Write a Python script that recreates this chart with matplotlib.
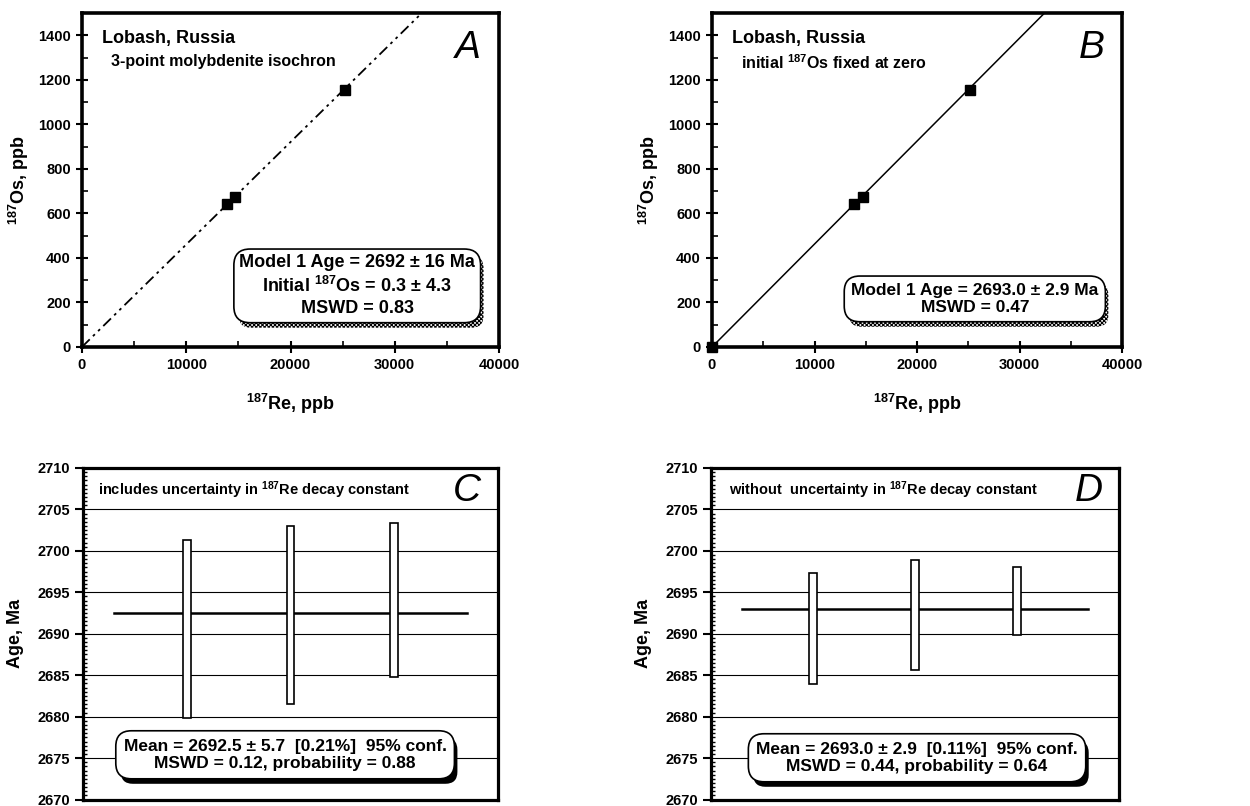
import matplotlib
matplotlib.use('Agg')
import matplotlib.pyplot as plt
from matplotlib.patches import FancyBboxPatch
from matplotlib.transforms import IdentityTransform
from matplotlib.ticker import MultipleLocator

plt.rcParams['font.family'] = ['Liberation Sans', 'DejaVu Sans']
plt.rcParams['font.weight'] = 'bold'
plt.rcParams['axes.labelweight'] = 'bold'
plt.rcParams['mathtext.fontset'] = 'custom'
plt.rcParams['mathtext.rm'] = 'Liberation Sans:bold'
plt.rcParams['mathtext.it'] = 'Liberation Sans:bold'
plt.rcParams['mathtext.bf'] = 'Liberation Sans:bold'
plt.rcParams['hatch.linewidth'] = 0.8

# isochron data (187Re, 187Os in ppb)
re_ppb = [13900, 14700, 25200]
os_ppb = [640, 675, 1155]
# panel B also includes the origin
re_ppb_b = [0, 13900, 14700, 25200]
os_ppb_b = [0, 640, 675, 1155]

# regression line end points
line_a_x = [0, 32600]
line_a_y = [0.3, 1500]
line_b_x = [0, 32450]
line_b_y = [0, 1500]

# weighted mean plots: age ranges for each analysis
sample_pos = [1, 2, 3]
c_low = [2679.8, 2681.5, 2684.8]
c_high = [2701.3, 2703.0, 2703.4]
c_mean = 2692.5
d_low = [2683.9, 2685.6, 2689.8]
d_high = [2697.3, 2698.9, 2698.1]
d_mean = 2693.0
mean_span = [0.3, 3.7]

boxes = []


def info_box(ax, x, y, txt, shadow, fs=13, ls=1.25, pad=0.4):
    t = ax.text(x, y, txt, transform=ax.transAxes, ha='center', va='center',
                fontsize=fs, linespacing=ls, zorder=6,
                bbox=dict(boxstyle='round,pad=%s,rounding_size=0.9' % pad,
                          fc='white', ec='black', lw=1.2))
    boxes.append((ax, t, shadow))


def add_shadows(fig):
    # shadow patches need the rendered box size, so draw first
    fig.canvas.draw()
    for ax, t, shadow in boxes:
        bb = t.get_bbox_patch().get_window_extent()
        if shadow == 'hatch':
            kw = dict(fc='white', ec='black', lw=0, hatch='xxxxxxxx')
        else:
            kw = dict(fc='black', ec='black', lw=0)
        p = FancyBboxPatch((bb.x0 + 5, bb.y0 - 5), bb.width - 2, bb.height - 2,
                           boxstyle='round,pad=0,rounding_size=12',
                           transform=IdentityTransform(), zorder=5,
                           clip_on=False, **kw)
        ax.add_artist(p)


def style_isochron(ax):
    ax.set_xlim(0, 40000)
    ax.set_ylim(0, 1500)
    ax.xaxis.set_major_locator(MultipleLocator(10000))
    ax.xaxis.set_minor_locator(MultipleLocator(5000))
    ax.yaxis.set_minor_locator(MultipleLocator(100))
    ax.set_yticks(range(0, 1401, 200))
    ax.tick_params(which='major', direction='inout', length=8, width=1.5,
                   labelsize=10.5, pad=4)
    ax.tick_params(which='minor', direction='in', length=4, width=1.2)
    for s in ax.spines.values():
        s.set_linewidth(2.6)
    ax.set_xlabel(r'$^{187}$Re, ppb', fontsize=13, labelpad=14)
    ax.set_ylabel(r'$^{187}$Os, ppb', fontsize=13, labelpad=5)


def style_mean(ax):
    ax.set_xlim(0, 4)
    ax.set_ylim(2670, 2710)
    ax.set_xticks([])
    ax.yaxis.set_major_locator(MultipleLocator(5))
    ax.yaxis.set_minor_locator(MultipleLocator(0.5))
    ax.tick_params(which='major', direction='out', length=6, width=1.5,
                   labelsize=10.5, pad=3)
    ax.tick_params(which='minor', direction='in', length=3, width=1)
    ax.grid(axis='y', which='major', color='black', lw=0.8)
    for s in ax.spines.values():
        s.set_linewidth(2.3)
    ax.set_ylabel('Age, Ma', fontsize=13, labelpad=10)


fig = plt.figure(figsize=(12.5, 8.06), dpi=100)
ax_a = fig.add_axes([0.0656, 0.5695, 0.3336, 0.4144])
ax_b = fig.add_axes([0.5696, 0.5695, 0.328, 0.4144])
ax_c = fig.add_axes([0.0664, 0.008, 0.332, 0.4114])
ax_d = fig.add_axes([0.5688, 0.008, 0.3264, 0.4114])

# A
ax_a.plot(line_a_x, line_a_y, color='black', lw=1.3,
          linestyle=(0, (6, 2.5, 1.5, 2.5, 1.5, 2.5)))
ax_a.plot(re_ppb, os_ppb, 's', color='black', ms=6.5, zorder=4)
style_isochron(ax_a)
ax_a.text(0.048, 0.925, 'Lobash, Russia', transform=ax_a.transAxes,
          fontsize=13, va='center')
ax_a.text(0.069, 0.856, '3-point molybdenite isochron', transform=ax_a.transAxes,
          fontsize=11.5, va='center')
ax_a.text(0.925, 0.895, 'A', transform=ax_a.transAxes, fontsize=28,
          fontweight='normal', style='italic', ha='center', va='center')
info_box(ax_a, 0.66, 0.183,
         'Model 1 Age = 2692 ± 16 Ma\nInitial $^{187}$Os = 0.3 ± 4.3\nMSWD = 0.83',
         'hatch', ls=1.3, pad=0.3)

# B
ax_b.plot(line_b_x, line_b_y, color='black', lw=1.1)
ax_b.plot(re_ppb_b, os_ppb_b, 's', color='black', ms=7, zorder=4, clip_on=False)
style_isochron(ax_b)
ax_b.text(0.048, 0.925, 'Lobash, Russia', transform=ax_b.transAxes,
          fontsize=13, va='center')
ax_b.text(0.07, 0.85, 'initial $^{187}$Os fixed at zero', transform=ax_b.transAxes,
          fontsize=11.5, va='center')
ax_b.text(0.925, 0.895, 'B', transform=ax_b.transAxes, fontsize=28,
          fontweight='normal', style='italic', ha='center', va='center')
info_box(ax_b, 0.641, 0.144, 'Model 1 Age = 2693.0 ± 2.9 Ma\nMSWD = 0.47',
         'hatch', fs=12.5, ls=1.15, pad=0.4)

# C
ax_c.plot(mean_span, [c_mean, c_mean], color='black', lw=1.8, zorder=3)
ax_c.bar(sample_pos, [h - l for h, l in zip(c_high, c_low)], bottom=c_low,
         width=0.075, color='white', edgecolor='black', lw=1.2, zorder=4)
style_mean(ax_c)
ax_c.text(0.035, 0.933, 'includes uncertainty in $^{187}$Re decay constant',
          transform=ax_c.transAxes, fontsize=10.5, va='center')
ax_c.text(0.925, 0.93, 'C', transform=ax_c.transAxes, fontsize=28,
          fontweight='normal', style='italic', ha='center', va='center')
info_box(ax_c, 0.487, 0.135,
         'Mean = 2692.5 ± 5.7  [0.21%]  95% conf.\nMSWD = 0.12, probability = 0.88',
         'solid', fs=12.5, ls=1.2, pad=0.45)

# D
ax_d.plot(mean_span, [d_mean, d_mean], color='black', lw=1.8, zorder=3)
ax_d.bar(sample_pos, [h - l for h, l in zip(d_high, d_low)], bottom=d_low,
         width=0.075, color='white', edgecolor='black', lw=1.2, zorder=4)
style_mean(ax_d)
ax_d.text(0.045, 0.933, 'without  uncertainty in $^{187}$Re decay constant',
          transform=ax_d.transAxes, fontsize=10.5, va='center')
ax_d.text(0.925, 0.93, 'D', transform=ax_d.transAxes, fontsize=28,
          fontweight='normal', style='italic', ha='center', va='center')
info_box(ax_d, 0.505, 0.126,
         'Mean = 2693.0 ± 2.9  [0.11%]  95% conf.\nMSWD = 0.44, probability = 0.64',
         'solid', fs=12.5, ls=1.2, pad=0.45)

add_shadows(fig)
fig.savefig('out.png', dpi=100)
